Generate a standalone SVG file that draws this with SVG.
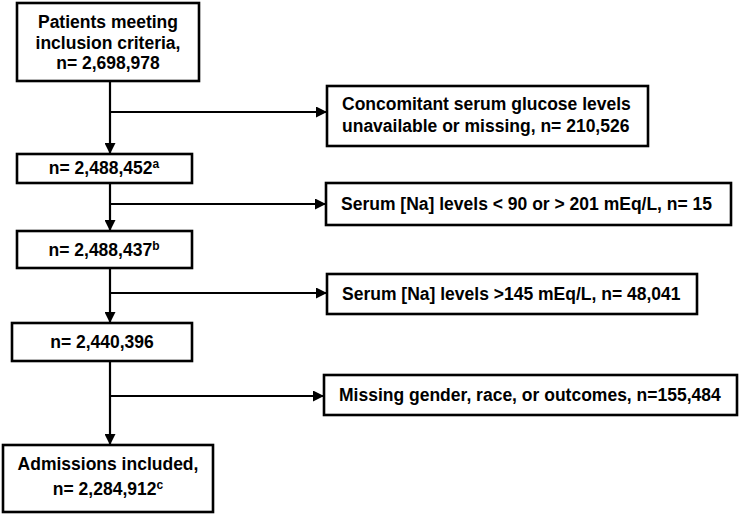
<svg xmlns="http://www.w3.org/2000/svg" width="740" height="514" viewBox="0 0 740 514">
<style>
.box{fill:#fff;stroke:#000;stroke-width:2.6}
.t{font-family:"Liberation Sans",Arial,sans-serif;font-weight:bold;font-size:17.5px;fill:#000}
.c{text-anchor:middle}
.sup{font-size:12px}
.ln{fill:none;stroke:#000;stroke-width:2.2}
</style>
<defs>
<marker id="ah" viewBox="0 0 10 10" refX="10" refY="5" markerWidth="11" markerHeight="11" markerUnits="userSpaceOnUse" orient="auto">
<path d="M0,0 L10,5 L0,10 z" fill="#000"/>
</marker>
</defs>
<rect width="740" height="514" fill="#fff"/>
<g id="connectors">
<line class="ln" x1="110" y1="81" x2="110" y2="154" marker-end="url(#ah)"/>
<line class="ln" x1="110" y1="112" x2="327" y2="112" marker-end="url(#ah)"/>
<line class="ln" x1="110" y1="183" x2="110" y2="231" marker-end="url(#ah)"/>
<line class="ln" x1="110" y1="204" x2="326" y2="204" marker-end="url(#ah)"/>
<line class="ln" x1="110" y1="268" x2="110" y2="323" marker-end="url(#ah)"/>
<line class="ln" x1="110" y1="293" x2="327" y2="293" marker-end="url(#ah)"/>
<line class="ln" x1="110" y1="361" x2="110" y2="445" marker-end="url(#ah)"/>
<line class="ln" x1="110" y1="396" x2="324" y2="396" marker-end="url(#ah)"/>
</g>
<g id="n1">
<rect class="box" x="17" y="3" width="182" height="78"/>
<text class="t c" x="108" y="28">Patients meeting</text>
<text class="t c" x="108" y="49">inclusion criteria,</text>
<text class="t c" x="108" y="69">n= 2,698,978</text>
</g>
<g id="n2">
<rect class="box" x="17" y="154" width="175" height="29"/>
<text class="t c" x="104" y="174">n= 2,488,452<tspan class="sup" dy="-6">a</tspan></text>
</g>
<g id="n3">
<rect class="box" x="17" y="231" width="175" height="37"/>
<text class="t c" x="104" y="256">n= 2,488,437<tspan class="sup" dy="-6">b</tspan></text>
</g>
<g id="n4">
<rect class="box" x="12" y="323" width="180" height="38"/>
<text class="t c" x="102" y="348">n= 2,440,396</text>
</g>
<g id="n5">
<rect class="box" x="3" y="445" width="210" height="67"/>
<text class="t c" x="108" y="470">Admissions included,</text>
<text class="t c" x="108" y="495">n= 2,284,912<tspan class="sup" dy="-6">c</tspan></text>
</g>
<g id="e1">
<rect class="box" x="327" y="86" width="321" height="60"/>
<text class="t" x="342" y="110">Concomitant serum glucose levels</text>
<text class="t" x="342" y="132">unavailable or missing, n= 210,526</text>
</g>
<g id="e2">
<rect class="box" x="326" y="183" width="405" height="42"/>
<text class="t" x="341" y="210">Serum [Na] levels &lt; 90 or &gt; 201 mEq/L, n= 15</text>
</g>
<g id="e3">
<rect class="box" x="327" y="274" width="370" height="40"/>
<text class="t" x="342" y="300">Serum [Na] levels &gt;145 mEq/L, n= 48,041</text>
</g>
<g id="e4">
<rect class="box" x="324" y="375" width="413" height="40"/>
<text class="t" x="339" y="401">Missing gender, race, or outcomes, n=155,484</text>
</g>
</svg>
